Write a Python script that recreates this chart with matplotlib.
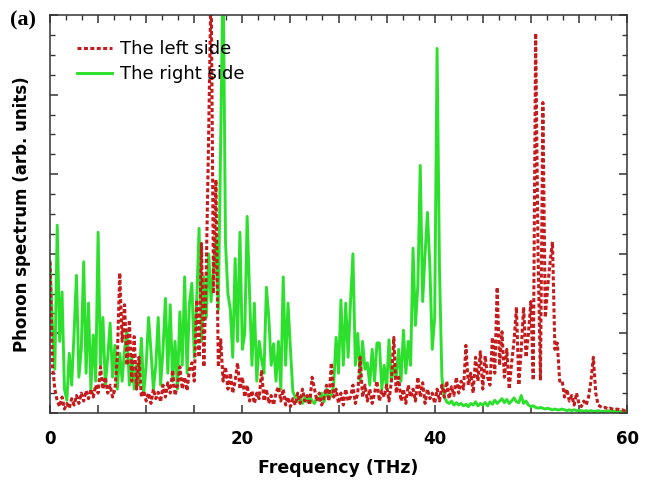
import numpy as np
import matplotlib
matplotlib.use("Agg")
import matplotlib.pyplot as plt
from matplotlib.ticker import MultipleLocator, FuncFormatter

# Phonon spectrum, one row per 5 THz (step 0.25 THz)
left_side = [
    1.90, 0.60, 0.30, 0.15, 0.08, 0.20, 0.05, 0.12, 0.06, 0.18, 0.10, 0.22, 0.12, 0.25, 0.15, 0.28, 0.18, 0.30, 0.20, 0.35,
    0.25, 0.58, 0.30, 0.45, 0.25, 0.35, 0.20, 0.30, 0.70, 1.76, 0.90, 1.36, 0.60, 1.17, 0.40, 0.96, 0.30, 0.70, 0.20, 0.28,
    0.15, 0.25, 0.12, 0.30, 0.18, 0.26, 0.14, 0.35, 0.20, 0.38, 0.25, 0.54, 0.22, 0.35, 0.58, 0.30, 0.45, 0.28, 0.55, 0.63,
    0.40, 1.42, 0.70, 2.13, 0.58, 1.80, 3.52, 5.50, 1.50, 2.93, 0.58, 0.92, 0.40, 0.58, 0.30, 0.50, 0.25, 0.40, 0.63, 0.30,
    0.45, 0.20, 0.35, 0.15, 0.28, 0.12, 0.25, 0.18, 0.54, 0.15, 0.30, 0.12, 0.22, 0.10, 0.25, 0.33, 0.15, 0.30, 0.10, 0.20,
    0.08, 0.18, 0.10, 0.25, 0.12, 0.30, 0.15, 0.22, 0.10, 0.45, 0.30, 0.15, 0.25, 0.10, 0.20, 0.35, 0.15, 0.63, 0.20, 0.30,
    0.12, 0.25, 0.10, 0.30, 0.15, 0.20, 0.35, 0.12, 0.25, 0.70, 0.20, 0.35, 0.15, 0.30, 0.12, 0.25, 0.40, 0.15, 0.28, 0.20,
    0.35, 0.15, 0.40, 0.95, 0.25, 0.45, 0.15, 0.30, 0.12, 0.35, 0.20, 0.30, 0.15, 0.45, 0.20, 0.38, 0.12, 0.30, 0.18, 0.25,
    0.12, 0.30, 0.15, 0.35, 0.20, 0.40, 0.18, 0.33, 0.22, 0.45, 0.25, 0.40, 0.30, 0.85, 0.35, 0.50, 0.25, 0.70, 0.40, 0.77,
    0.30, 0.72, 0.45, 0.35, 0.95, 0.50, 1.58, 0.60, 1.02, 0.45, 0.80, 0.30, 0.63, 0.90, 1.33, 0.35, 0.80, 1.33, 0.70, 1.00,
    1.40, 0.41, 4.77, 2.00, 0.41, 3.90, 1.20, 1.58, 1.90, 2.15, 0.80, 0.88, 0.40, 0.41, 0.20, 0.30, 0.15, 0.22, 0.10, 0.25,
    0.12, 0.08, 0.15, 0.10, 0.20, 0.40, 0.70, 0.25, 0.10, 0.08, 0.06, 0.07, 0.05, 0.06, 0.05, 0.04, 0.05, 0.04, 0.04, 0.03, 0.03,
]

right_side = [
    1.90, 1.10, 0.55, 2.36, 0.90, 1.52, 0.30, 0.16, 0.75, 0.35, 1.00, 1.73, 0.45, 0.80, 1.90, 0.50, 1.38, 0.30, 0.98, 0.40,
    2.27, 0.60, 1.20, 0.35, 0.70, 1.13, 0.45, 0.85, 0.30, 0.75, 0.40, 0.80, 1.04, 0.35, 0.70, 0.30, 0.60, 0.35, 0.94, 0.25,
    0.60, 1.20, 0.77, 0.30, 0.60, 1.20, 0.35, 0.80, 1.44, 0.50, 1.36, 0.40, 0.90, 0.30, 1.27, 0.60, 1.71, 0.50, 1.38, 1.63,
    0.70, 1.40, 2.32, 0.90, 1.71, 1.20, 2.00, 1.40, 1.80, 2.20, 1.30, 3.50, 5.60, 2.13, 1.50, 1.30, 0.70, 1.94, 0.90, 2.27,
    0.80, 1.00, 2.47, 1.50, 0.60, 1.38, 0.40, 0.90, 0.67, 0.50, 1.58, 1.20, 0.60, 0.87, 0.40, 0.90, 0.30, 1.71, 0.60, 1.38,
    0.80, 0.27, 0.20, 0.15, 0.18, 0.12, 0.20, 0.14, 0.22, 0.15, 0.12, 0.20, 0.16, 0.25, 0.14, 0.30, 0.18, 0.22, 0.35, 0.95,
    0.50, 1.42, 0.60, 1.38, 0.70, 1.40, 2.00, 0.60, 1.00, 0.40, 0.90, 0.55, 0.63, 0.35, 0.80, 0.40, 0.88, 0.88, 0.30, 0.60,
    0.30, 0.92, 0.40, 0.60, 0.45, 0.80, 0.40, 1.04, 0.50, 0.90, 0.60, 2.07, 1.10, 1.60, 3.11, 1.40, 2.00, 2.52, 1.84, 0.80,
    1.20, 4.58, 1.80, 0.45, 0.20, 0.14, 0.12, 0.15, 0.10, 0.13, 0.10, 0.12, 0.09, 0.11, 0.08, 0.12, 0.10, 0.14, 0.09, 0.12,
    0.10, 0.13, 0.09, 0.14, 0.11, 0.16, 0.12, 0.15, 0.18, 0.13, 0.17, 0.12, 0.15, 0.19, 0.14, 0.13, 0.22, 0.12, 0.15, 0.10,
    0.08, 0.09, 0.07, 0.06, 0.07, 0.06, 0.05, 0.06, 0.05, 0.04, 0.05, 0.04, 0.04, 0.05, 0.04, 0.03, 0.04, 0.03, 0.04, 0.03,
    0.03, 0.03, 0.02, 0.03, 0.02, 0.03, 0.02, 0.02, 0.03, 0.02, 0.02, 0.02, 0.03, 0.02, 0.02, 0.02, 0.02, 0.02, 0.02, 0.02, 0.02,
]

freq = np.linspace(0, 60, len(left_side))

fig = plt.figure(figsize=(6.48, 4.84), dpi=100)
ax = fig.add_axes([0.0772, 0.1467, 0.8904, 0.8223])

green_line, = ax.plot(freq, right_side, color="#2ee02e", lw=2.1, label="The right side")
red_line, = ax.plot(freq, left_side, color="#c41c1c", lw=2.2, ls=(0, (1.3, 0.8)),
                    label="The left side")

ax.set_xlim(0, 60)
ax.set_ylim(0, 5)

# ticks
ax.xaxis.set_major_locator(MultipleLocator(5))
ax.xaxis.set_minor_locator(MultipleLocator(5 / 3))
ax.xaxis.set_major_formatter(FuncFormatter(lambda v, p: f"{v:.0f}" if v % 20 == 0 else ""))
ax.yaxis.set_major_locator(MultipleLocator(1))
ax.yaxis.set_minor_locator(MultipleLocator(0.25))
ax.tick_params(which="both", direction="in", top=True, right=True, color="#333333")
ax.tick_params(which="major", length=6, width=1.1)
ax.tick_params(which="minor", length=3.5, width=1.0)
ax.tick_params(axis="x", which="minor", bottom=False)
ax.tick_params(axis="x", which="major", pad=12, labelsize=12)
ax.tick_params(axis="y", labelleft=False)
for lab in ax.get_xticklabels():
    lab.set_fontweight("bold")
for sp in ax.spines.values():
    sp.set_color("#333333")
    sp.set_linewidth(1.1)

ax.set_xlabel("Frequency (THz)", fontsize=12.5, fontweight="bold", labelpad=8)
ax.set_ylabel("Phonon spectrum (arb. units)", fontsize=12, fontweight="bold", labelpad=10)

ax.legend(handles=[red_line, green_line], loc="upper left", bbox_to_anchor=(0.019, 0.978),
          frameon=False, fontsize=13, handlelength=1.95, handletextpad=0.4,
          labelspacing=0.4)

fig.text(0.016, 0.958, "(a)", fontsize=16, fontweight="bold", family="Liberation Serif",
         ha="left", va="center")

fig.savefig("out.png", dpi=100)
